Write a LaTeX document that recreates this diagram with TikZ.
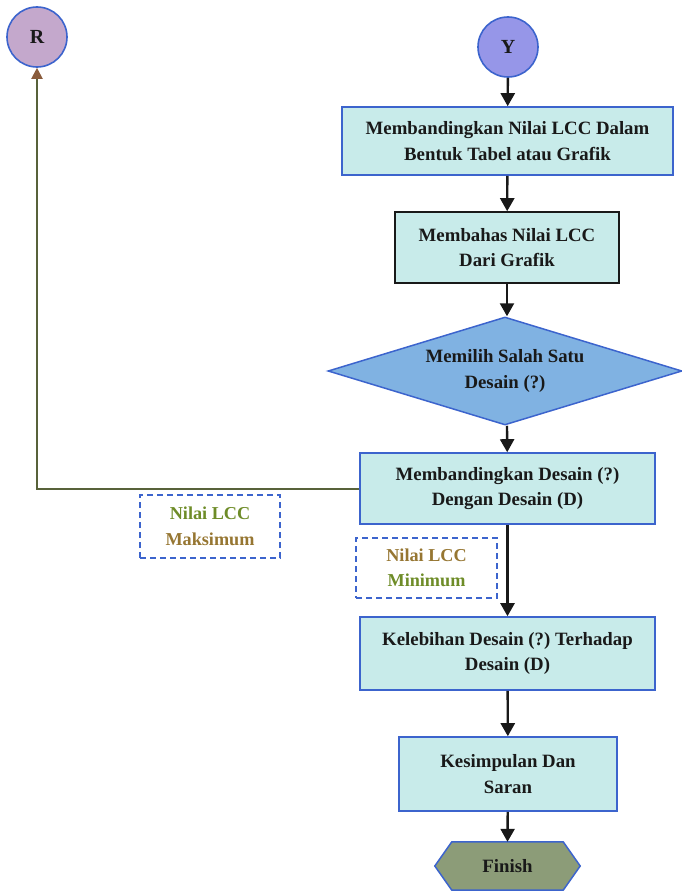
\documentclass[tikz,border=0pt]{standalone}
\usepackage{fontspec}
\setmainfont{Liberation Serif}
\frenchspacing
\usetikzlibrary{arrows.meta,shapes.geometric,positioning}
\definecolor{boxfill}{RGB}{200,235,234}
\definecolor{boxline}{RGB}{60,100,205}
\definecolor{diafill}{RGB}{128,178,226}
\definecolor{finfill}{RGB}{140,156,120}
\definecolor{rfill}{RGB}{196,168,204}
\definecolor{yfill}{RGB}{150,150,232}
\definecolor{backline}{RGB}{88,98,58}
\definecolor{backtip}{RGB}{138,92,60}
\definecolor{olivetxt}{RGB}{110,140,40}
\definecolor{browntxt}{RGB}{150,118,50}
\definecolor{txt}{RGB}{25,25,25}
\tikzset{
  procbox/.style={draw=boxline, line width=1.6pt, fill=boxfill, inner sep=0pt, align=center,
    font=\fontsize{18.8}{25.5}\selectfont\bfseries, text=txt},
  circ/.style={circle, draw=boxline, line width=1.6pt, inner sep=0pt, minimum size=60pt,
    font=\fontsize{20}{22}\selectfont\bfseries, text=txt},
  flowarrow/.style={line width=2.4pt, draw=txt, -{Triangle[length=13pt,width=14pt]}},
  notebox/.style={draw=boxline, line width=1.5pt, dash pattern=on 6pt off 4pt, inner sep=0pt,
    align=center, font=\fontsize{18.2}{25.5}\selectfont\bfseries}
}
\begin{document}
\begin{tikzpicture}[x=1pt,y=-1pt]
\useasboundingbox (0,0) rectangle (681,891);
\node[circ, fill=rfill] (R) at (37,37) {R};
\node[circ, fill=yfill] (Y) at (508,47) {Y};
\node[procbox, minimum width=331pt, minimum height=68pt] (b1) at (507.5,141)
  {Membandingkan Nilai LCC Dalam\\Bentuk Tabel atau Grafik};
\node[procbox, draw=txt, minimum width=224pt, minimum height=71pt] (b2) at (507,247.5)
  {Membahas Nilai LCC\\Dari Grafik};
\node[diamond, draw=boxline, line width=1.5pt, fill=diafill, inner sep=0pt, shape aspect=3.28,
  minimum width=354pt, minimum height=108pt, align=center,
  font=\fontsize{18.8}{25.5}\selectfont\bfseries, text=txt] (d) at (505,371)
  {Memilih Salah Satu\\Desain (?)};
\node[procbox, minimum width=295pt, minimum height=71pt] (b3) at (507.5,488.5)
  {Membandingkan Desain (?)\\Dengan Desain (D)};
\node[procbox, minimum width=295pt, minimum height=73pt] (b4) at (507.5,653.5)
  {Kelebihan Desain (?) Terhadap\\Desain (D)};
\node[procbox, minimum width=218pt, minimum height=74pt] (b5) at (508,774)
  {Kesimpulan Dan\\Saran};
\node[inner sep=0pt, minimum width=145pt, minimum height=48pt] (fin) at (507.5,866) {};
\fill[finfill, draw=boxline, line width=1.5pt]
  (fin.west) -- ([xshift=17pt]fin.north west) -- ([xshift=-17pt]fin.north east) -- (fin.east)
  -- ([xshift=-17pt]fin.south east) -- ([xshift=17pt]fin.south west) -- cycle;
\node[font=\fontsize{18.8}{25.5}\selectfont\bfseries, text=txt] (fintxt) at (fin.center) {Finish};
\node[notebox, minimum width=140pt, minimum height=63pt] (nmax) at (210,526.5)
  {\textcolor{olivetxt}{Nilai LCC}\\\textcolor{browntxt}{Maksimum}};
\node[notebox, minimum width=141pt, minimum height=60pt] (nmin) at (426.5,568)
  {\textcolor{browntxt}{Nilai LCC}\\\textcolor{olivetxt}{Minimum}};
\coordinate (corner) at (R.south |- b3.west);
\draw[flowarrow] (Y) -- (b1);
\draw[flowarrow] (b1) -- (b2);
\draw[flowarrow] (b2) -- (b2 |- d.north);
\draw[flowarrow] (b2 |- d.south) -- (b3);
\draw[flowarrow] (b3) -- (b4);
\draw[flowarrow] (b4) -- (b5);
\draw[flowarrow] (b5) -- (fin.north);
\draw[line width=2pt, draw=backline, -{Triangle[length=11pt,width=11pt,color=backtip]}]
  (b3.west) -- (corner) -- (R.south);
\end{tikzpicture}
\end{document}
